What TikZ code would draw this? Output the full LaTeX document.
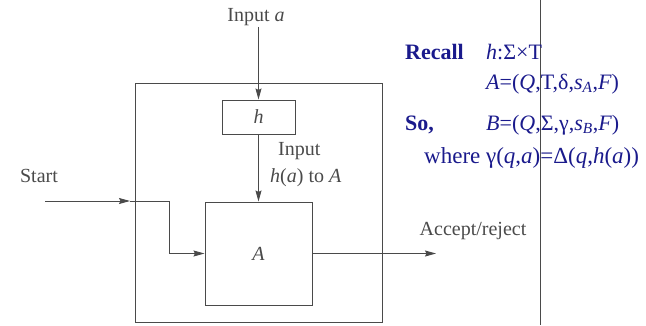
\documentclass[tikz,border=0pt]{standalone}
\usepackage{fontspec}
\setmainfont{Liberation Serif}
\usepackage{xcolor}
\usepackage{tikz}
\usetikzlibrary{arrows.meta}
\definecolor{scan}{HTML}{4A4A4A}
\definecolor{ink}{HTML}{1A1A8C}
\tikzset{blk/.style={draw=scan,line width=1pt,inner sep=0pt,font=\fontsize{20}{24}\selectfont,text=scan},
  flow/.style={-{Stealth[length=11pt,width=6pt,inset=1.5pt]},scan,line width=0.9pt},
  lbl/.style={text=scan,inner sep=1pt,font=\fontsize{20}{27}\selectfont},
  note/.style={text=ink,anchor=base west,inner sep=0pt,font=\fontsize{22}{26}\selectfont}}

\begin{document}
\begin{tikzpicture}[x=1pt,y=-1pt]
\useasboundingbox (0,0) rectangle (646,325);
% machine B built around A
\node[blk,minimum width=247,minimum height=239] (outer) at (258.5,202.5) {};
\node[blk,minimum width=73,minimum height=34] (h) at (258.5,117) {\textit{h}};
\node[blk,minimum width=107,minimum height=103] (A) at (258.5,253.5) {\textit{A}};
\node[lbl] (ina) at (256,17) {Input \textit{a}};
\node[lbl,anchor=north west,align=left] (inh) at (269,141) {\hspace*{8pt}Input\\\textit{h}(\textit{a}) to \textit{A}};
\node[lbl] (start) at (39,176) {Start};
\node[lbl] (acc) at (473,231) {Accept/reject};
\coordinate (s0) at (45,201); \coordinate (sm) at (130,201); \coordinate (s1) at (169,201);
\coordinate (out) at (436,253.5);
\draw[flow] (h.north |- ina.south) -- (h.north);
\draw[flow] (h.south) -- (A.north);
\draw[flow] (s0) -- (sm); \draw[flow] (sm) -- (s1) |- (A.west);
\draw[flow] (A.east) -- (out);
\draw[scan,line width=0.8pt] (540,0) -- (540,325);
% the recap in blue
\node[note] (rc) at (405,59) {\textbf{Recall}}; \node[note] (hm) at (486,59) {\textit{h}:Σ×T};
\node[note] (ad) at (486,89) {\textit{A}=(\textit{Q},T,δ,\textit{s}\textsubscript{\textit{A}},\textit{F})};
\node[note] (so) at (405,130) {\textbf{So,}}; \node[note] (bd) at (486,130) {\textit{B}=(\textit{Q},Σ,γ,\textit{s}\textsubscript{\textit{B}},\textit{F})};
\node[note,font=\fontsize{23}{26}\selectfont] (wh) at (424,163) {where γ(\textit{q},\textit{a})=Δ(\textit{q},\textit{h}(\textit{a}))};
\end{tikzpicture}
\end{document}
